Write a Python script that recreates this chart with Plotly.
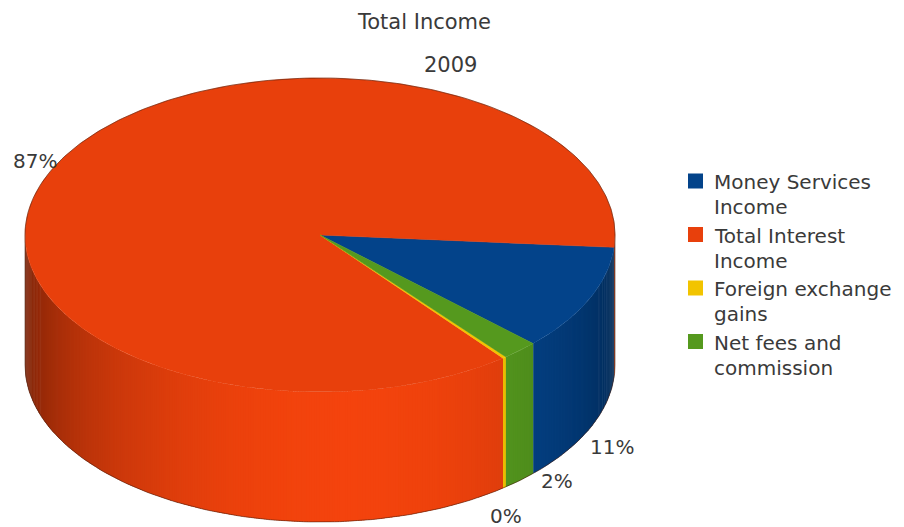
import math
import textwrap
import numpy as np
import plotly.graph_objects as go

# ---- data -------------------------------------------------------------
categories = ["Money Services Income", "Total Interest Income",
              "Foreign exchange gains", "Net fees and commission"]
shares = [10.9, 86.9, 0.2, 2.0]          # share of total income, %
colors = ["#03438a", "#e8400c", "#f2c400", "#55991e"]
title_text = "Total Income"
subtitle_text = "2009"

# ---- canvas / pie geometry (pixels) -----------------------------------
W, H = 904, 527
CX, CY = 320, 235        # centre of the top face
RX, RY = 295, 157        # ellipse radii of the top face
DEPTH_PX = 130           # thickness of the pie
START_DEG = -43.74       # angle where the first slice begins (counter-clockwise)
DEPTH = DEPTH_PX / RY    # thickness in data units

FONT = "DejaVu Sans"
TEXT_COLOR = "#3a3a3a"


def shade(hex_color, f):
    """Scale an RGB colour by factor f (lighting on the side wall)."""
    h = hex_color.lstrip("#")
    rgb = [int(h[i:i + 2], 16) for i in (0, 2, 4)]
    rgb = [max(0, min(255, int(round(c * f)))) for c in rgb]
    return "rgb({},{},{})".format(*rgb)


def light(phi_deg):
    """Brightness of the outer wall, brightest facing the viewer."""
    return 0.52 + 0.53 * max(0.0, math.cos(math.radians(phi_deg - 275.0)))


total = float(sum(shares))
spans = [360.0 * v / total for v in shares]
bounds = []
a0 = START_DEG
for sp in spans:
    bounds.append((a0, a0 + sp))
    a0 += sp

fig = go.Figure()

# ---- outer walls (front half only, drawn first) ----------------------
STEP = 0.5
OVERLAP = 0.35
for (s, e), col in zip(bounds, colors):
    for k in (-1, 0, 1):
        lo = max(s, 180.0 + 360.0 * k)
        hi = min(e, 360.0 + 360.0 * k)
        if hi <= lo:
            continue
        n = max(1, int(math.ceil((hi - lo) / STEP)))
        edges = np.linspace(lo, hi, n + 1)
        for p1, p2 in zip(edges[:-1], edges[1:]):
            q2 = min(hi, p2 + OVERLAP)
            t0, t1 = math.radians(p1), math.radians(q2)
            xs = [math.cos(t0), math.cos(t1), math.cos(t1), math.cos(t0), math.cos(t0)]
            ys = [math.sin(t0), math.sin(t1), math.sin(t1) - DEPTH,
                  math.sin(t0) - DEPTH, math.sin(t0)]
            c = shade(col, light(0.5 * (p1 + p2) % 360.0))
            fig.add_trace(go.Scatter(
                x=xs, y=ys, mode="lines", fill="toself", fillcolor=c,
                line=dict(width=0), hoverinfo="skip", showlegend=False))

# ---- top faces --------------------------------------------------------
for (s, e), col, name in zip(bounds, colors, categories):
    n = max(2, int(math.ceil((e - s) / 0.5)))
    t = np.radians(np.linspace(s, e, n + 1))
    xs = np.concatenate([[0.0], np.cos(t), [0.0]])
    ys = np.concatenate([[0.0], np.sin(t), [0.0]])
    fig.add_trace(go.Scatter(
        x=xs, y=ys, mode="lines", fill="toself", fillcolor=col,
        line=dict(color=col, width=0.5), name=name,
        hoverinfo="skip", showlegend=False))

# ---- silhouette outline ----------------------------------------------
tb = np.radians(np.linspace(0, 180, 181))
tf = np.radians(np.linspace(180, 360, 181))
ox = np.concatenate([np.cos(tb), np.cos(tf)])
oy = np.concatenate([np.sin(tb), np.sin(tf) - DEPTH])
ox = np.append(ox, ox[0])
oy = np.append(oy, oy[0])
fig.add_trace(go.Scatter(x=ox, y=oy, mode="lines",
                         line=dict(color="rgba(70,25,10,0.55)", width=1),
                         hoverinfo="skip", showlegend=False))

# ---- percentage labels -----------------------------------------------
label_nudge_px = [(23, 18), (-25, 0), (2, 28), (37, 1)]
annotations = []
for (s, e), v, (dx, dy) in zip(bounds, shares, label_nudge_px):
    mid = math.radians(0.5 * (s + e))
    ax, ay = math.cos(mid), math.sin(mid)
    if ay < 0:
        ay -= DEPTH
    annotations.append(dict(
        x=ax, y=ay, xref="x", yref="y", text="{:.0f}%".format(100.0 * v / total),
        showarrow=False, xshift=dx, yshift=-dy, xanchor="center", yanchor="middle",
        font=dict(family=FONT, size=20, color=TEXT_COLOR)))

# ---- titles -------------------------------------------------------------
annotations.append(dict(x=424 / W, y=1 - 22 / H, xref="paper", yref="paper",
                        text=title_text, showarrow=False, xanchor="center",
                        yanchor="middle", font=dict(family=FONT, size=21, color=TEXT_COLOR)))
annotations.append(dict(x=450 / W, y=1 - 65 / H, xref="paper", yref="paper",
                        text=subtitle_text, showarrow=False, xanchor="center",
                        yanchor="middle", font=dict(family=FONT, size=21, color=TEXT_COLOR)))

# ---- legend -----------------------------------------------------------
LEG_SWATCH_X, LEG_TEXT_X = 688, 712
LEG_TOP, LEG_STEP, LEG_LINE, SW = 182, 53.5, 25, 15
shapes = []
for i, (name, col) in enumerate(zip(categories, colors)):
    y0 = LEG_TOP + i * LEG_STEP
    shapes.append(dict(type="rect", xref="paper", yref="paper",
                       x0=LEG_SWATCH_X / W, x1=(LEG_SWATCH_X + SW) / W,
                       y0=1 - (y0 - 1 - SW / 2) / H, y1=1 - (y0 - 1 + SW / 2) / H,
                       fillcolor=col, line=dict(width=0)))
    for j, line in enumerate(textwrap.wrap(name, 16)):
        annotations.append(dict(
            x=LEG_TEXT_X / W, y=1 - (y0 + j * LEG_LINE) / H, xref="paper", yref="paper",
            text=line, showarrow=False, xanchor="left", yanchor="middle",
            font=dict(family=FONT, size=20, color=TEXT_COLOR)))

fig.update_layout(
    width=W, height=H, margin=dict(l=0, r=0, t=0, b=0),
    paper_bgcolor="white", plot_bgcolor="white",
    xaxis=dict(range=[(0 - CX) / RX, (W - CX) / RX], visible=False, fixedrange=True),
    yaxis=dict(range=[(CY - H) / RY, CY / RY], visible=False, fixedrange=True),
    annotations=annotations, shapes=shapes, showlegend=False,
)

fig.write_html("out.html")
